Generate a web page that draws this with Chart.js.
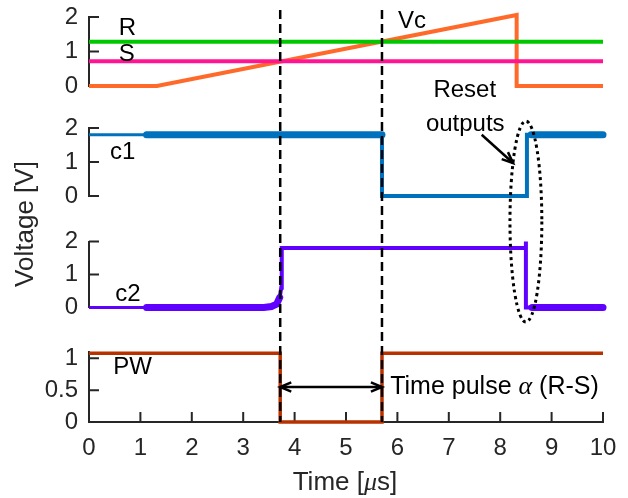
<!DOCTYPE html>
<html>
<head>
<meta charset="utf-8">
<script src="https://cdn.jsdelivr.net/npm/chart.js@4.4.0/dist/chart.umd.min.js"></script>
<style>
  html, body { margin: 0; padding: 0; background: #fff; }
  #wrap { position: relative; width: 628px; height: 498px; }
  #wrap canvas { position: absolute; left: 0; top: 0; }
</style>
</head>
<body>
<div id="wrap">
  <canvas id="pTop" width="628" height="498"></canvas>
  <canvas id="pC1" width="628" height="498"></canvas>
  <canvas id="pC2" width="628" height="498"></canvas>
  <canvas id="pPW" width="628" height="498"></canvas>
</div>
<script>
// ---- data (time in µs, voltage in V) ----
const xTicks = [0, 1, 2, 3, 4, 5, 6, 7, 8, 9, 10];
const yTicksV = [0, 1, 2];
const yTicksPW = [0, 0.5, 1];

const rTime = [0, 10];
const rVolt = [1.28, 1.28];
const sTime = [0, 10];
const sVolt = [0.72, 0.72];
const vcTime = [0, 1.32, 8.32, 8.32, 10];
const vcVolt = [0, 0, 2.06, 0, 0];

const c1ThinTime = [0, 1.12];
const c1ThinVolt = [1.8, 1.8];
const c1HighTime = [1.12, 5.7];
const c1HighVolt = [1.8, 1.8];
const c1LowTime = [5.7, 5.7, 8.52, 8.52, 8.6];
const c1LowVolt = [1.8, 0, 0, 1.8, 1.8];
const c1EndTime = [8.6, 10];
const c1EndVolt = [1.8, 1.8];

const c2ThinTime = [0, 1.12];
const c2ThinVolt = [0, 0];
const c2LowTime = [1.12, 3.4, 3.55, 3.65, 3.71];
const c2LowVolt = [0, 0, 0.03, 0.1, 0.3];
const c2HighTime = [3.71, 3.74, 3.75, 8.48, 8.5, 8.5, 8.5, 8.62];
const c2HighVolt = [0.3, 0.6, 1.8, 1.8, 1.8, 2.0, 0, 0];
const c2EndTime = [8.62, 10];
const c2EndVolt = [0, 0];

const pwTime = [0, 3.72, 3.72, 5.7, 5.7, 10];
const pwVolt = [1.08, 1.08, 0, 0, 1.08, 1.08];

const pulseEdges = [3.72, 5.7];
// panel text labels: [panel, x, y, text]
const panelLabels = [
  [0, 0.58, 1.68, 'R'],
  [0, 0.58, 0.93, 'S'],
  [0, 6.01, 1.88, 'Vc'],
  [1, 0.41, 1.27, 'c1'],
  [2, 0.51, 0.41, 'c2'],
  [3, 0.47, 0.86, 'PW']
];

const FONT = '"Liberation Sans", Arial, sans-serif';
const SERIF_IT = 'italic 26px "Liberation Serif", serif';
const AXIS = '#262626';
const charts = [];

function pts(xs, ys) {
  return xs.map((x, i) => ({ x: x, y: ys[i] }));
}
function line(xs, ys, color, width, cap) {
  return {
    data: pts(xs, ys), borderColor: color, borderWidth: width,
    borderCapStyle: cap || 'butt', borderJoinStyle: 'miter',
    pointRadius: 0, tension: 0, fill: false, clip: false
  };
}

// MATLAB style inward tick marks (under the data lines)
const inwardTicks = {
  id: 'inwardTicks',
  beforeDatasetsDraw(chart) {
    const { ctx, chartArea, scales } = chart;
    ctx.save();
    ctx.strokeStyle = AXIS;
    ctx.lineWidth = 2;
    ctx.beginPath();
    scales.y.ticks.forEach(t => {
      const y = scales.y.getPixelForValue(t.value);
      ctx.moveTo(chartArea.left, y);
      ctx.lineTo(chartArea.left + 10, y);
    });
    if (chart.options.scales.x.display) {
      xTicks.forEach(v => {
        const x = scales.x.getPixelForValue(v);
        ctx.moveTo(x, chartArea.bottom);
        ctx.lineTo(x, chartArea.bottom - 10);
      });
    }
    ctx.stroke();
    ctx.restore();
  }
};

function arrowHead(ctx, x, y, ang, len) {
  ctx.beginPath();
  ctx.moveTo(x - len * Math.cos(ang - 0.4), y - len * Math.sin(ang - 0.4));
  ctx.lineTo(x, y);
  ctx.lineTo(x - len * Math.cos(ang + 0.4), y - len * Math.sin(ang + 0.4));
  ctx.stroke();
}

// annotations spanning all panels, drawn on the top-most canvas
const overlay = {
  id: 'overlay',
  afterDraw(chart) {
    const ctx = chart.ctx;
    const [top, c1, c2, pw] = charts.concat([chart]).slice(0, 4);
    ctx.save();
    ctx.fillStyle = '#000';
    ctx.textBaseline = 'middle';
    ctx.font = '24px ' + FONT;
    panelLabels.forEach(([p, x, y, txt]) => {
      const c = [top, c1, c2, pw][p];
      ctx.fillText(txt, c.scales.x.getPixelForValue(x), c.scales.y.getPixelForValue(y));
    });

    // reset annotation
    ctx.textAlign = 'center';
    ctx.fillText('Reset', c1.scales.x.getPixelForValue(7.31), c1.scales.y.getPixelForValue(3.1));
    ctx.fillText('outputs', c1.scales.x.getPixelForValue(7.32), c1.scales.y.getPixelForValue(2.1));
    ctx.strokeStyle = '#000';
    ctx.lineWidth = 2.5;
    const ax0 = c1.scales.x.getPixelForValue(7.64), ay0 = c1.scales.y.getPixelForValue(1.8);
    const ax1 = c1.scales.x.getPixelForValue(8.25), ay1 = c1.scales.y.getPixelForValue(0.97);
    ctx.beginPath(); ctx.moveTo(ax0, ay0); ctx.lineTo(ax1, ay1); ctx.stroke();
    arrowHead(ctx, ax1, ay1, Math.atan2(ay1 - ay0, ax1 - ax0), 12);

    // dotted ellipse round the reset edges
    const ex = c1.scales.x.getPixelForValue(8.5);
    const eTop = c1.scales.y.getPixelForValue(2.2);
    const eBot = c2.scales.y.getPixelForValue(-0.44);
    const erx = c1.scales.x.getPixelForValue(8.5 + 0.31) - ex;
    ctx.setLineDash([3, 3.5]);
    ctx.lineWidth = 3;
    ctx.beginPath();
    ctx.ellipse(ex, (eTop + eBot) / 2, erx, (eBot - eTop) / 2, 0, 0, Math.PI * 2);
    ctx.stroke();

    // dashed pulse edges
    ctx.setLineDash([9, 5]);
    ctx.lineWidth = 2.5;
    const yStart = top.scales.y.getPixelForValue(2.2);
    pulseEdges.forEach(t => {
      const x = pw.scales.x.getPixelForValue(t);
      ctx.beginPath(); ctx.moveTo(x, yStart); ctx.lineTo(x, pw.chartArea.bottom); ctx.stroke();
    });
    ctx.setLineDash([]);

    // double arrow for the pulse width
    const xa = pw.scales.x.getPixelForValue(pulseEdges[0]);
    const xb = pw.scales.x.getPixelForValue(pulseEdges[1]);
    const ya = pw.scales.y.getPixelForValue(0.55);
    ctx.beginPath(); ctx.moveTo(xa, ya); ctx.lineTo(xb, ya); ctx.stroke();
    arrowHead(ctx, xa, ya, Math.PI, 12);
    arrowHead(ctx, xb, ya, 0, 12);

    // "Time pulse α (R-S)"
    ctx.textAlign = 'left';
    let tx = pw.scales.x.getPixelForValue(5.86);
    const parts = [['Time pulse ', '25px ' + FONT], ['\u03B1', SERIF_IT], [' (R-S)', '25px ' + FONT]];
    parts.forEach(([s, f]) => { ctx.font = f; ctx.fillText(s, tx, ya); tx += ctx.measureText(s).width; });

    // axis titles
    ctx.fillStyle = AXIS;
    const xt = [['Time [', '26px ' + FONT], ['\u03BC', SERIF_IT], ['s]', '26px ' + FONT]];
    let w = 0;
    xt.forEach(([s, f]) => { ctx.font = f; w += ctx.measureText(s).width; });
    tx = pw.scales.x.getPixelForValue(4.98) - w / 2;
    xt.forEach(([s, f]) => { ctx.font = f; ctx.fillText(s, tx, 483); tx += ctx.measureText(s).width; });

    ctx.font = '26px ' + FONT;
    ctx.textAlign = 'center';
    ctx.translate(26, 224);
    ctx.rotate(-Math.PI / 2);
    ctx.fillText('Voltage [V]', 0, 0);
    ctx.restore();
  }
};

function makePanel(id, datasets, yMin, yMax, yTicks, area, withX, extra) {
  return new Chart(document.getElementById(id), {
    type: 'line',
    data: { datasets: datasets },
    options: {
      responsive: false,
      animation: false,
      events: [],
      layout: { padding: { left: 0, right: 628 - area.right, top: area.top, bottom: 0 } },
      plugins: { legend: { display: false }, tooltip: { enabled: false } },
      scales: {
        x: {
          type: 'linear', min: 0, max: 10, display: withX,
          afterBuildTicks: s => { s.ticks = xTicks.map(v => ({ value: v })); },
          afterFit: s => { s.height = 498 - area.bottom; s.paddingLeft = 0; s.paddingRight = 0; },
          grid: { display: true, drawOnChartArea: false, drawTicks: false },
          border: { display: true, color: AXIS, width: 2 },
          ticks: { color: AXIS, padding: 12, maxRotation: 0, font: { family: FONT, size: 24 } }
        },
        y: {
          type: 'linear', min: yMin, max: yMax,
          afterBuildTicks: s => { s.ticks = yTicks.map(v => ({ value: v })); },
          afterFit: s => { s.width = area.left; s.paddingTop = 0; s.paddingBottom = 0; },
          grid: { display: true, drawOnChartArea: false, drawTicks: false },
          border: { display: true, color: AXIS, width: 2 },
          ticks: { color: AXIS, padding: 11, font: { family: FONT, size: 24 }, callback: v => String(v) }
        }
      }
    },
    plugins: [inwardTicks].concat(extra || [])
  });
}

charts.push(makePanel('pTop', [
  line(rTime, rVolt, '#00c800', 4),
  line(sTime, sVolt, '#ff1493', 4),
  line(vcTime, vcVolt, '#ff6a2a', 4)
], 0, 2, yTicksV, { left: 89, right: 603, top: 17, bottom: 86 }, false));

charts.push(makePanel('pC1', [
  line(c1ThinTime, c1ThinVolt, '#0072bd', 3),
  line(c1HighTime, c1HighVolt, '#0072bd', 7, 'round'),
  line(c1LowTime, c1LowVolt, '#0072bd', 4),
  line(c1EndTime, c1EndVolt, '#0072bd', 7, 'round')
], 0, 2, yTicksV, { left: 89, right: 603, top: 128, bottom: 196 }, false));

charts.push(makePanel('pC2', [
  line(c2ThinTime, c2ThinVolt, '#6000ff', 3),
  line(c2LowTime, c2LowVolt, '#6000ff', 7, 'round'),
  line(c2HighTime, c2HighVolt, '#6000ff', 4),
  line(c2EndTime, c2EndVolt, '#6000ff', 7, 'round')
], 0, 2, yTicksV, { left: 89, right: 603, top: 241.5, bottom: 307.5 }, false));

charts.push(makePanel('pPW', [
  line(pwTime, pwVolt, '#b83200', 3.5)
], 0, 1.1, yTicksPW, { left: 89, right: 603, top: 352, bottom: 422 }, true, [overlay]));
</script>
</body>
</html>
